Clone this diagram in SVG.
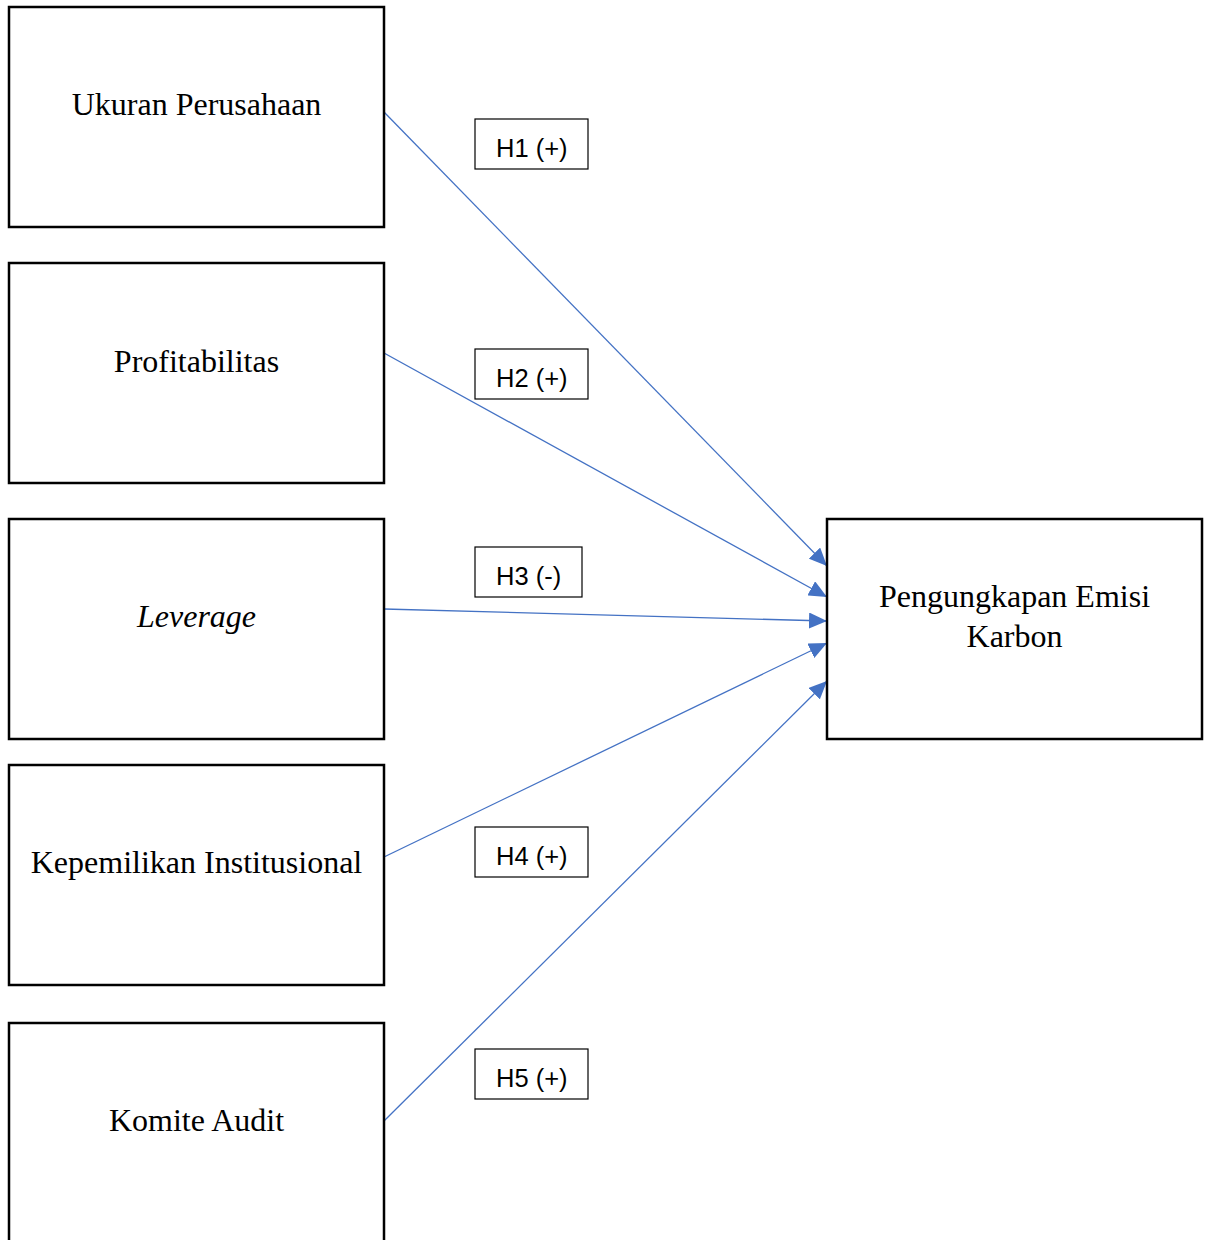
<svg xmlns="http://www.w3.org/2000/svg" width="1210" height="1240" viewBox="0 0 1210 1240">
<style>
.box{fill:#fff;stroke:#000;stroke-width:2.5}
.lbl{fill:#fff;stroke:#000;stroke-width:1.2}
.t{font-family:"Liberation Serif","Times New Roman",serif;font-size:32px;fill:#000;text-anchor:middle}
.h{font-family:"Liberation Sans",Arial,sans-serif;font-size:25.5px;fill:#000}
.c{fill:none;stroke:#4472C4;stroke-width:1.3;marker-end:url(#ah)}
</style>
<defs>
<marker id="ah" markerUnits="userSpaceOnUse" markerWidth="18" markerHeight="16" refX="18" refY="8" orient="auto">
<path d="M0,0 L18,8 L0,16 Z" fill="#4472C4"/>
</marker>
</defs>
<rect width="1210" height="1240" fill="#fff"/>
<g id="connectors">
<path class="c" d="M384,112 L827,566"/>
<path class="c" d="M384,353 L827,597"/>
<path class="c" d="M384,609 L827,621"/>
<path class="c" d="M384,857 L827,643"/>
<path class="c" d="M384,1121 L827,681"/>
</g>
<g id="n1"><rect class="box" x="9" y="7" width="375" height="220"/><text class="t" x="196.5" y="115">Ukuran Perusahaan</text></g>
<g id="n2"><rect class="box" x="9" y="263" width="375" height="220"/><text class="t" x="196.5" y="372">Profitabilitas</text></g>
<g id="n3"><rect class="box" x="9" y="519" width="375" height="220"/><text class="t" x="196.5" y="627" font-style="italic">Leverage</text></g>
<g id="n4"><rect class="box" x="9" y="765" width="375" height="220"/><text class="t" x="196.5" y="873">Kepemilikan Institusional</text></g>
<g id="n5"><rect class="box" x="9" y="1023" width="375" height="240"/><text class="t" x="196.5" y="1131">Komite Audit</text></g>
<g id="n6"><rect class="box" x="827" y="519" width="375" height="220"/><text class="t" x="1014.5" y="607">Pengungkapan Emisi</text><text class="t" x="1014.5" y="647">Karbon</text></g>
<g id="l1"><rect class="lbl" x="475" y="119" width="113" height="50"/><text class="h" x="496" y="157">H1 (+)</text></g>
<g id="l2"><rect class="lbl" x="475" y="349" width="113" height="50"/><text class="h" x="496" y="387">H2 (+)</text></g>
<g id="l3"><rect class="lbl" x="475" y="547" width="107" height="50"/><text class="h" x="496" y="585">H3 (-)</text></g>
<g id="l4"><rect class="lbl" x="475" y="827" width="113" height="50"/><text class="h" x="496" y="865">H4 (+)</text></g>
<g id="l5"><rect class="lbl" x="475" y="1049" width="113" height="50"/><text class="h" x="496" y="1087">H5 (+)</text></g>
</svg>
